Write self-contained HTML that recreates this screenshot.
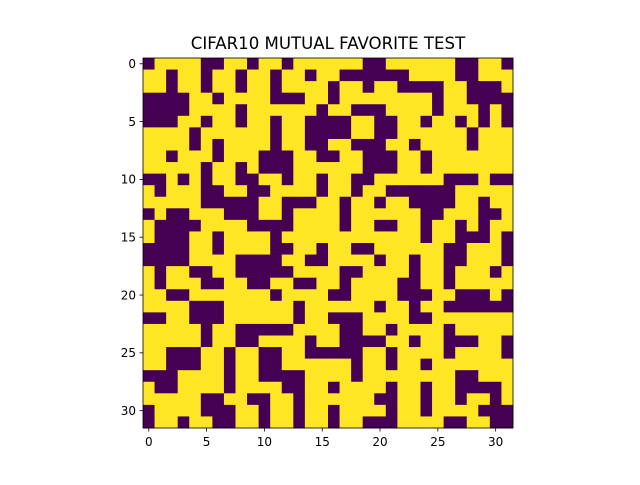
<!DOCTYPE html>
<html><head><meta charset="utf-8"><style>
html,body{margin:0;padding:0;background:#fff;}
svg text{font-family:"DejaVu Sans","Liberation Sans",sans-serif;}
</style></head><body>
<svg id="chart" width="640" height="480" viewBox="0 0 640 480" xmlns="http://www.w3.org/2000/svg">
<rect width="640" height="480" fill="#fff"/>
<text x="328" y="49" font-size="16.6" text-anchor="middle" fill="#000">CIFAR10 MUTUAL FAVORITE TEST</text>
<g id="cells"></g>
<g id="axes"></g>
</svg>
<script>
const gridRows = [
"10000110010010000001100000011001",
"00100100100100100111111000011000",
"00100100100100001001001111001110",
"11110010000111001000000001001111",
"11110000100000010011100001000101",
"11100100100100111100110010010101",
"00001000000100111100110000001000",
"00001010000100110011100100001000",
"00100010001110011001110010000000",
"00000100101110000001110010000000",
"11010100110010010011000000111011",
"01000110011000010010011111100000",
"00000111110011100100100111100100",
"10110001110010000100000011000110",
"01111000011110000100110010010100",
"01110010000100000000000010011101",
"11110010000110010011000000110001",
"11110000111100110000100100110001",
"01001100111110000110000100100010",
"01000110011001100100001100100000",
"00110000000100001100001110011101",
"00001110000001000000100100111111",
"11001110000001001110000110000000",
"00000100111110000110010000100000",
"00000100110000100111100100111001",
"00111001001100111110010000100001",
"00111001001100000010010010000000",
"11100001001111000010000000011000",
"01100001000011001000010010011110",
"00000110011001000000110010010010",
"10000111001001001000010010000111",
"10010011001001001001110000110011"
];
const xTicks = [0,5,10,15,20,25,30];
const yTicks = [0,5,10,15,20,25,30];
const colors = ["#fde725","#440154"];

const NS="http://www.w3.org/2000/svg";
const L=143, T=58, W=370, H=370;
const nR=gridRows.length, nC=gridRows[0].length;
const cw=W/nC, ch=H/nR;
const xs=c=>L+c*cw, ys=r=>T+r*ch;
const cells=document.getElementById('cells');
gridRows.forEach((row,r)=>{
  for(let c=0;c<row.length;c++){
    const el=document.createElementNS(NS,'rect');
    
    
    el.setAttribute('x',xs(c));el.setAttribute('y',ys(r));
    el.setAttribute('width',cw+0.4);el.setAttribute('height',ch+0.4);
    el.setAttribute('fill',colors[+row[c]]);
    cells.appendChild(el);
  }
});
const axes=document.getElementById('axes');
const frame=document.createElementNS(NS,'rect');


frame.setAttribute('x',L);frame.setAttribute('y',T);frame.setAttribute('width',W);frame.setAttribute('height',H);
frame.setAttribute('fill','none');frame.setAttribute('stroke','#000');frame.setAttribute('stroke-width','0.8');
axes.appendChild(frame);
xTicks.forEach(v=>{
  const x=xs(v+0.5);
  const t=document.createElementNS(NS,'line');
  
  
  t.setAttribute('x1',x);t.setAttribute('x2',x);t.setAttribute('y1',T+H);t.setAttribute('y2',T+H+3.5);
  t.setAttribute('stroke','#000');t.setAttribute('stroke-width','0.8');axes.appendChild(t);
  const tx=document.createElementNS(NS,'text');
  
  
  tx.setAttribute('x',x);tx.setAttribute('y',T+H+18);tx.setAttribute('font-size','12');tx.setAttribute('text-anchor','middle');
  tx.textContent=v;axes.appendChild(tx);
});
yTicks.forEach(v=>{
  const y=ys(v+0.5);
  const t=document.createElementNS(NS,'line');
  
  
  t.setAttribute('x1',L-3.5);t.setAttribute('x2',L);t.setAttribute('y1',y);t.setAttribute('y2',y);
  t.setAttribute('stroke','#000');t.setAttribute('stroke-width','0.8');axes.appendChild(t);
  const tx=document.createElementNS(NS,'text');
  
  
  tx.setAttribute('x',L-7);tx.setAttribute('y',y+4.3);tx.setAttribute('font-size','12');tx.setAttribute('text-anchor','end');
  tx.textContent=v;axes.appendChild(tx);
});
</script>
</body></html>
